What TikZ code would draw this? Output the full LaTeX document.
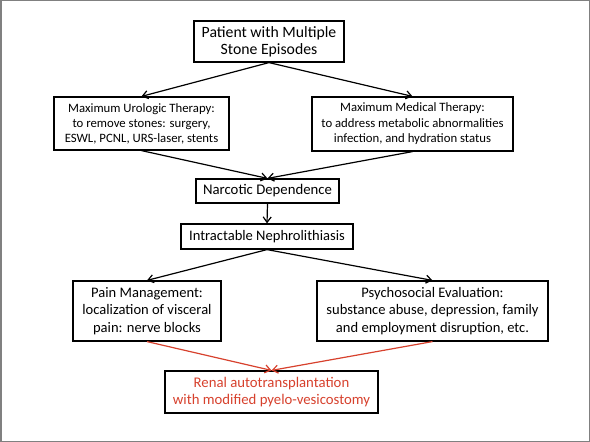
\documentclass[tikz,border=0pt]{standalone}
\usepackage{fontspec}
\setmainfont{Carlito}
\usetikzlibrary{arrows.meta}
\definecolor{myred}{RGB}{215,65,45}
\definecolor{frame}{RGB}{128,128,128}
\begin{document}
\begin{tikzpicture}[x=1bp,y=-1bp,
  box/.style={draw=black,line width=1.2bp,inner sep=0pt,align=center,fill=white},
  arr/.style={line width=1.2bp,-{Straight Barb[length=5.5bp,width=8bp]}},
  rarr/.style={line width=1.2bp,draw=myred,-{Straight Barb[length=5.5bp,width=8bp]}}]
\useasboundingbox (0,0) rectangle (590,442);
\draw[frame,line width=1.5bp] (0.75,0.75) rectangle (589.25,441.25);
\node[box,minimum width=150bp,minimum height=41bp,font=\fontsize{15.8}{17}\selectfont] (b1) at (269,41.5) {Patient with Multiple\\Stone Episodes};
\node[box,minimum width=175bp,minimum height=53bp,font=\fontsize{12.8}{15}\selectfont] (b2) at (141.5,123.5) {Maximum Urologic Therapy:\\to remove stones: surgery,\\ESWL, PCNL, URS-laser, stents};
\node[box,minimum width=201bp,minimum height=54bp,font=\fontsize{12.8}{15.5}\selectfont] (b3) at (412.5,124) {Maximum Medical Therapy:\\to address metabolic abnormalities\\infection, and hydration status};
\node[box,minimum width=143bp,minimum height=24bp,font=\fontsize{14.8}{17}\selectfont] (b4) at (267.5,191) {Narcotic Dependence};
\node[box,minimum width=172bp,minimum height=25bp,font=\fontsize{14.6}{17}\selectfont] (b5) at (267,236.5) {Intractable Nephrolithiasis};
\node[box,minimum width=148bp,minimum height=60bp,font=\fontsize{14.6}{17.5}\selectfont] (b6) at (147,311) {Pain Management:\\localization of visceral\\pain: nerve blocks};
\node[box,minimum width=231bp,minimum height=60bp,font=\fontsize{14.6}{17.5}\selectfont] (b7) at (432.5,311) {Psychosocial Evaluation:\\substance abuse, depression, family\\and employment disruption, etc.};
\node[box,minimum width=213bp,minimum height=42bp,font=\fontsize{14.8}{17.5}\selectfont,text=myred] (b8) at (271.5,392) {Renal autotransplantation\\with modified pyelo-vesicostomy};
\draw[arr] (b1.south) -- (b2.north);
\draw[arr] (b1.south) -- (b3.north);
\draw[arr] (b2.south) -- (b4.north);
\draw[arr] (b3.south) -- (b4.north);
\draw[arr] (b4.south) -- (b5.north);
\draw[arr] (b5.south) -- (b6.north);
\draw[arr] (b5.south) -- (b7.north);
\draw[rarr] (b6.south) -- (b8.north);
\draw[rarr] (b7.south) -- (b8.north);
\end{tikzpicture}
\end{document}
